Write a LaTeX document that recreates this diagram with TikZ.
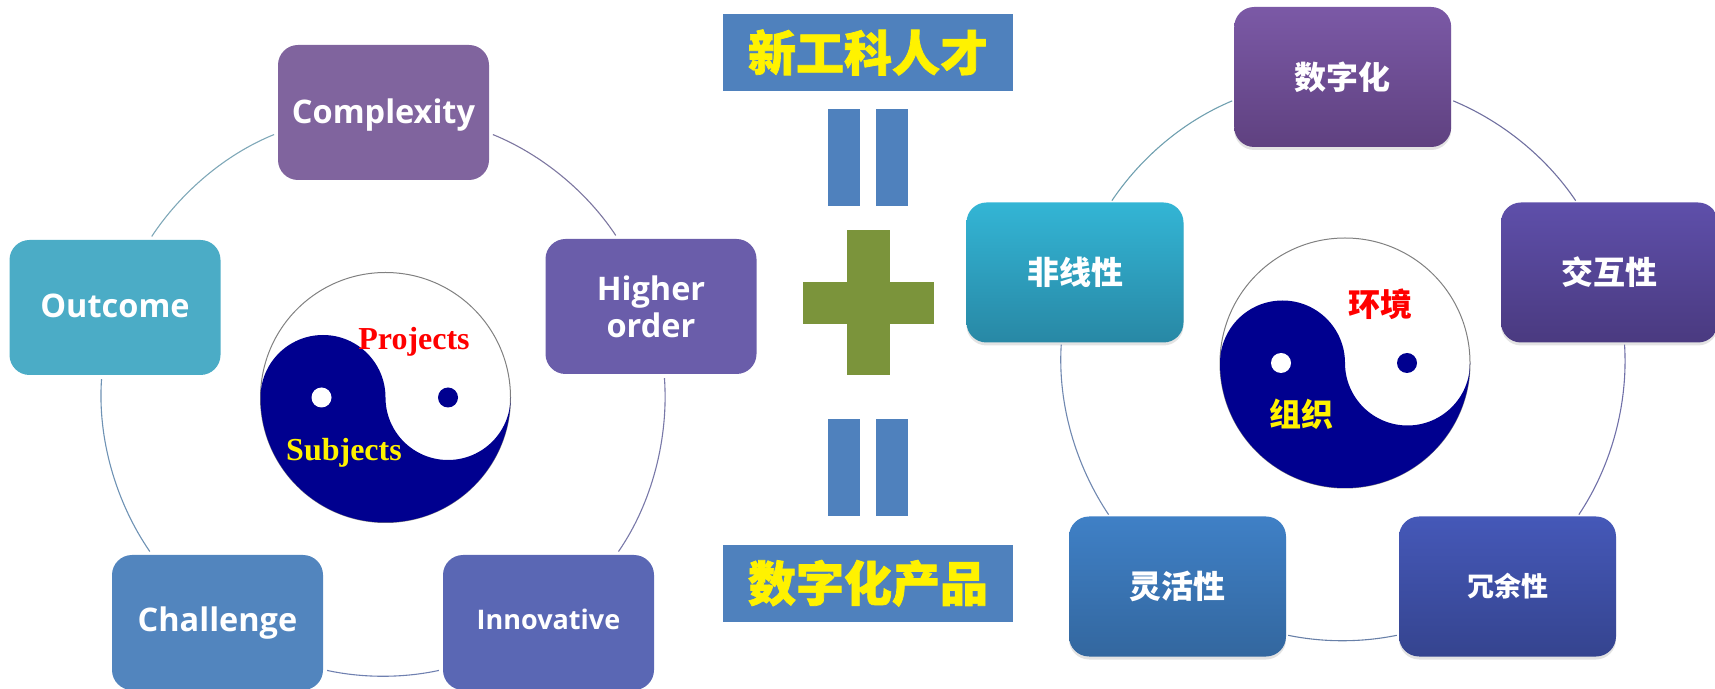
\documentclass[tikz,border=0pt]{standalone}
\usepackage{fontspec}
\setmainfont{Open Sans}
\newfontfamily\cjk{Noto Sans CJK SC}
\newfontfamily\cjkheavy{Noto Sans CJK SC}[BoldFeatures={FakeBold=1.5}]
\newfontfamily\tms{Liberation Serif}
\usetikzlibrary{shadows}
\newcommand{\fsz}[1]{\fontsize{#1}{37}\selectfont}
\definecolor{bannerblue}{HTML}{4F81BD}
\definecolor{plusgreen}{HTML}{7B943B}
\definecolor{taijiblue}{HTML}{00008F}
\tikzset{
  flatbox/.style={rectangle,rounded corners=20pt,minimum width=211pt,minimum height=135pt,
    inner sep=0pt,align=center,text=white,font=\fsz{32.5}\bfseries},
  gradbox/.style={rectangle,rounded corners=20pt,minimum width=217pt,minimum height=140pt,
    inner sep=0pt,text=white,font=\cjk\fsz{32}\bfseries,
    drop shadow={opacity=.22,shadow xshift=0pt,shadow yshift=-3pt}},
  banner/.style={rectangle,fill=bannerblue,minimum width=290pt,minimum height=77pt,inner sep=0pt,
    text=yellow,font=\cjkheavy\fsz{48}\bfseries},
  eqbar/.style={rectangle,fill=bannerblue,minimum width=32pt,minimum height=96.5pt,inner sep=0pt},
  plusbar/.style={rectangle,fill=plusgreen,inner sep=0pt},
  ring/.style={line width=1.1pt,looseness=.87},
}
\begin{document}
\begin{tikzpicture}[x=1pt,y=1pt]
  \useasboundingbox (0,0) rectangle (1715,688);
  % left cluster
  \node[flatbox,text height=23pt,text depth=0pt,fill={rgb,255:red,128;green,100;blue,158}] (complexity) at (383.5,575.5) {Complexity};
  \node[flatbox,fill={rgb,255:red,106;green,93;blue,170}] (higher) at (651,381.5) {Higher\\order};
  \node[flatbox,text height=13pt,text depth=0pt,fill={rgb,255:red,90;green,103;blue,180},font=\fsz{27}\bfseries] (innovative) at (548.5,65.5) {Innovative};
  \node[flatbox,text height=18pt,text depth=0pt,fill={rgb,255:red,82;green,133;blue,190}] (challenge) at (217.5,65.5) {Challenge};
  \node[flatbox,text height=21pt,text depth=0pt,fill={rgb,255:red,75;green,172;blue,198}] (outcome) at (115,380.5) {Outcome};
  \foreach \a/\p/\b/\q/\o/\i/\c in {
    complexity/-11.9/higher/116.5/-22.2/123.5/7C76A0,
    higher/-79.7/innovative/45.9/-85.9/55.3/7878A8,
    innovative/204/challenge/-24/-167.7/-12.3/6F80B0,
    challenge/134.1/outcome/259.7/124.7/265.9/6E92B4,
    outcome/63.5/complexity/191.9/56.5/202/7FA8B8}
  {
    \definecolor{arccol}{HTML}{\c}
    \draw[ring,draw=arccol,shorten <=4pt,shorten >=4pt] (\a.\p) to[out=\o,in=\i] (\b.\q);
  }
  \begin{scope}[shift={(385.5,290.5)}]
    \draw[gray,line width=1pt] (0,0) circle (125);
    \fill[taijiblue] (-125,0) arc[start angle=180,end angle=0,radius=62.5]
      arc[start angle=180,end angle=360,radius=62.5]
      arc[start angle=0,end angle=-180,radius=125] -- cycle;
    \fill[white] (-64,0) circle (10);
    \fill[taijiblue] (62.5,0) circle (10);
    \node[text=red,font=\tms\fsz{32}\bfseries] (projects) at (28.5,56) {Projects};
    \node[text=yellow,font=\tms\fsz{32}\bfseries] (subjects) at (-41.5,-55) {Subjects};
  \end{scope}
  % middle column
  \node[banner] (talent) at (868,635.5) {新工科人才};
  \node[eqbar] (eqa) at (844,530.7) {};
  \node[eqbar] (eqb) at (892,530.7) {};
  \node[plusbar,minimum width=131pt,minimum height=42pt] (plusa) at (868.5,385) {};
  \node[plusbar,minimum width=43pt,minimum height=145pt] (plusb) at (868.5,385.5) {};
  \node[eqbar] (eqc) at (844,220.5) {};
  \node[eqbar] (eqd) at (892,220.5) {};
  \node[banner] (product) at (868,104.7) {数字化产品};
  % right cluster
  \node[gradbox,top color={rgb,255:red,123;green,89;blue,166},bottom color={rgb,255:red,95;green,65;blue,128}] (digital) at (1342.7,611) {数字化};
  \node[gradbox,top color={rgb,255:red,94;green,79;blue,170},bottom color={rgb,255:red,74;green,58;blue,128}] (interact) at (1609.5,415.5) {交互性};
  \node[gradbox,font=\cjk\fsz{27}\bfseries,top color={rgb,255:red,69;green,88;blue,184},bottom color={rgb,255:red,53;green,68;blue,143}] (redund) at (1507.5,101.5) {冗余性};
  \node[gradbox,top color={rgb,255:red,63;green,128;blue,198},bottom color={rgb,255:red,51;green,103;blue,159}] (flexible) at (1177.5,101.5) {灵活性};
  \node[gradbox,top color={rgb,255:red,51;green,181;blue,213},bottom color={rgb,255:red,40;green,136;blue,165}] (nonlin) at (1075,415.5) {非线性};
  \foreach \a/\p/\b/\q/\o/\i/\c in {
    digital/-12.1/interact/115.6/-22.7/124/7070A0,
    interact/-78.5/redund/45.3/-86.4/56.2/7070A8,
    redund/204.4/flexible/-24.4/-168.5/-11.6/6880A8,
    flexible/134.5/nonlin/259.2/123.8/266.4/7088B0,
    nonlin/63.8/digital/192.1/56/202.7/70A0B0}
  {
    \definecolor{arccol}{HTML}{\c}
    \draw[ring,draw=arccol,shorten <=2pt,shorten >=2pt] (\a.\p) to[out=\o,in=\i] (\b.\q);
  }
  \begin{scope}[shift={(1345,325)}]
    \draw[gray,line width=1pt] (0,0) circle (125);
    \fill[taijiblue] (-125,0) arc[start angle=180,end angle=0,radius=62.5]
      arc[start angle=180,end angle=360,radius=62.5]
      arc[start angle=0,end angle=-180,radius=125] -- cycle;
    \fill[white] (-64,0) circle (10);
    \fill[taijiblue] (62,0) circle (10);
    \node[text=red,font=\cjk\fsz{32}\bfseries] (environ) at (35,59) {环境};
    \node[text=yellow,font=\cjk\fsz{32}\bfseries] (organ) at (-44,-51) {组织};
  \end{scope}
\end{tikzpicture}
\end{document}
